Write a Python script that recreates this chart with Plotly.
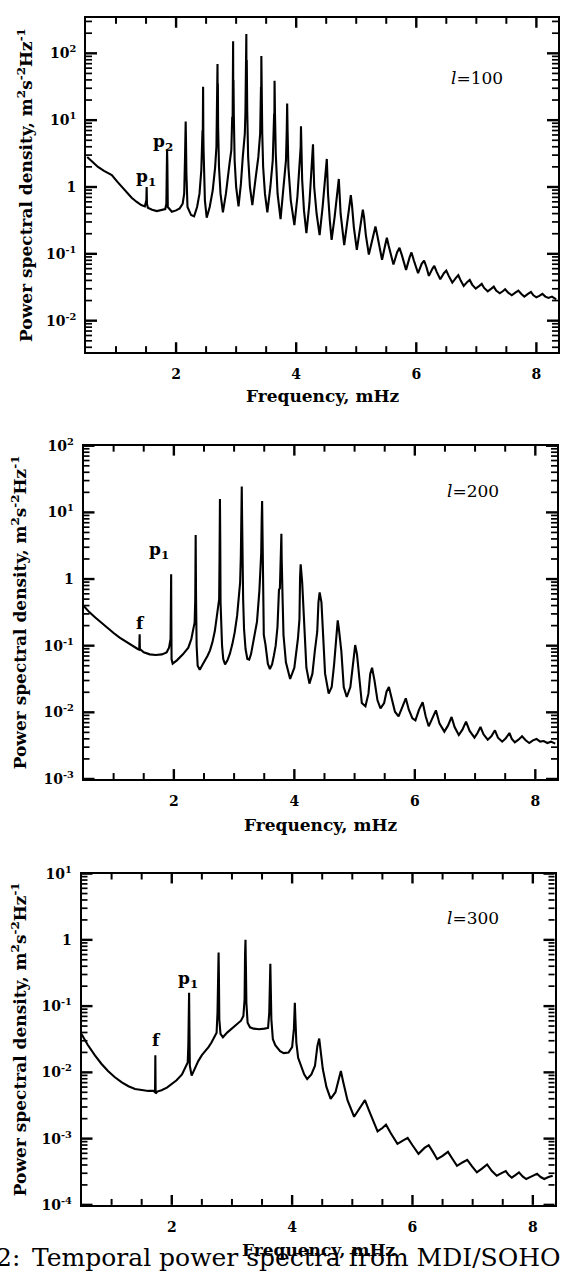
import numpy as np
import plotly.graph_objects as go

W, H = 563, 1273

# ---------------- data (PSD given as log10 values) ----------------
freq_l100 = [0.52, 0.60, 0.70, 0.80, 0.93, 1.02, 1.10, 1.18, 1.26, 1.34, 1.42, 1.48,
             1.505, 1.51, 1.515, 1.53, 1.60, 1.68, 1.76, 1.82,
             1.838, 1.845, 1.85, 1.855, 1.862, 1.93, 2.00, 2.06, 2.11,
             2.135, 2.148, 2.155, 2.16, 2.165, 2.172, 2.19, 2.25, 2.30, 2.35, 2.39,
             2.42, 2.435, 2.440, 2.443, 2.446, 2.45, 2.454, 2.458, 2.465, 2.48, 2.51, 2.56, 2.61, 2.65,
             2.672, 2.678, 2.681, 2.684, 2.687, 2.69, 2.693, 2.696, 2.70, 2.715, 2.74, 2.78, 2.83, 2.89,
             2.92, 2.935, 2.939, 2.942, 2.946, 2.95, 2.953, 2.956, 2.962, 2.975, 3.00, 3.04, 3.08, 3.11,
             3.145, 3.155, 3.159, 3.162, 3.166, 3.17, 3.173, 3.177, 3.185, 3.20, 3.23, 3.27, 3.32, 3.37,
             3.40, 3.41, 3.414, 3.417, 3.42, 3.424, 3.428, 3.435, 3.45, 3.48, 3.52, 3.57, 3.61,
             3.625, 3.633, 3.636, 3.64, 3.644, 3.647, 3.66, 3.69, 3.74, 3.79, 3.83,
             3.843, 3.85, 3.857, 3.87, 3.91, 3.97, 4.02, 4.06,
             4.075, 4.08, 4.087, 4.10, 4.13, 4.17, 4.22, 4.26,
             4.275, 4.28, 4.287, 4.30, 4.34, 4.39, 4.44, 4.48,
             4.505, 4.51, 4.517, 4.53, 4.56, 4.59, 4.64, 4.68,
             4.705, 4.71, 4.72, 4.74, 4.80, 4.85, 4.89, 4.91, 4.93, 4.96,
             5.01, 5.06, 5.09, 5.11, 5.13, 5.16, 5.21, 5.26, 5.30, 5.32, 5.35,
             5.43, 5.48, 5.51, 5.54, 5.62, 5.68, 5.72, 5.76, 5.83, 5.89, 5.92, 5.96,
             6.03, 6.09, 6.13, 6.17, 6.21, 6.27, 6.30, 6.34, 6.40, 6.46, 6.50, 6.54,
             6.60, 6.66, 6.70, 6.74, 6.79, 6.85, 6.89, 6.93, 6.99, 7.05, 7.09, 7.13,
             7.19, 7.25, 7.29, 7.33, 7.39, 7.44, 7.48, 7.53, 7.59, 7.65, 7.70, 7.75,
             7.80, 7.86, 7.91, 7.95, 8.00, 8.05, 8.10, 8.15, 8.20, 8.26, 8.33]
logpsd_l100 = [0.45, 0.38, 0.30, 0.24, 0.18, 0.08, 0.00, -0.08, -0.16, -0.22, -0.27, -0.29,
               -0.20, 0.00, -0.25, -0.31, -0.34, -0.36, -0.34, -0.33,
               -0.25, 0.40, 0.56, 0.35, -0.30, -0.37, -0.35, -0.32, -0.25,
               -0.10, 0.40, 0.80, 0.98, 0.70, 0.20, -0.30, -0.42, -0.44, -0.30, -0.10,
               0.25, 0.60, 0.85, 0.55, 0.85, 1.50, 0.80, 0.55, 0.30, -0.20, -0.46, -0.30, -0.05, 0.29,
               0.60, 1.20, 0.70, 1.72, 1.00, 1.84, 1.20, 1.55, 0.90, 0.30, -0.10, -0.38, -0.10, 0.35,
               0.55, 1.05, 1.60, 1.04, 1.60, 2.18, 1.20, 1.60, 1.05, 0.40, 0.00, -0.29, 0.05, 0.44,
               0.80, 1.13, 1.93, 1.15, 1.90, 2.29, 1.30, 1.90, 1.13, 0.45, 0.00, -0.27, 0.10, 0.45,
               0.80, 1.20, 1.50, 1.20, 1.96, 1.30, 1.50, 0.80, 0.30, -0.10, -0.38, 0.00, 0.40,
               0.70, 1.10, 0.80, 1.59, 1.00, 1.10, 0.50, -0.10, -0.48, -0.05, 0.40,
               0.85, 1.25, 0.85, 0.30, -0.20, -0.57, -0.15, 0.30,
               0.60, 0.91, 0.55, 0.10, -0.35, -0.69, -0.25, 0.25,
               0.45, 0.64, 0.40, 0.00, -0.40, -0.72, -0.30, 0.10,
               0.30, 0.42, 0.25, -0.10, -0.50, -0.79, -0.45, -0.10,
               0.05, 0.12, -0.05, -0.40, -0.87, -0.55, -0.25, -0.12, -0.28, -0.60,
               -0.94, -0.65, -0.42, -0.34, -0.45, -0.72, -1.01, -0.80, -0.63, -0.59, -0.72,
               -1.09, -0.88, -0.76, -0.88, -1.16, -0.98, -0.91, -1.02, -1.24, -1.05, -0.98, -1.10,
               -1.29, -1.15, -1.10, -1.20, -1.33, -1.22, -1.18, -1.27, -1.38, -1.29, -1.25, -1.33,
               -1.43, -1.36, -1.32, -1.40, -1.48, -1.42, -1.39, -1.46, -1.52, -1.48, -1.45, -1.51,
               -1.56, -1.52, -1.49, -1.55, -1.59, -1.56, -1.53, -1.58, -1.62, -1.58, -1.55, -1.60,
               -1.64, -1.60, -1.57, -1.62, -1.65, -1.63, -1.60, -1.64, -1.66, -1.64, -1.68]

freq_l200 = [0.50, 0.60, 0.70, 0.80, 0.90, 1.00, 1.10, 1.20, 1.30, 1.40, 1.425,
             1.428, 1.432, 1.436, 1.50, 1.60, 1.70, 1.80, 1.88, 1.92,
             1.945, 1.950, 1.955, 1.958, 1.962, 1.98, 2.05, 2.15, 2.24, 2.29, 2.32, 2.345, 2.355, 2.362,
             2.368, 2.378, 2.395, 2.43, 2.48, 2.52, 2.56, 2.60, 2.64, 2.68, 2.71, 2.735, 2.752, 2.758, 2.762, 2.765,
             2.770, 2.775, 2.785, 2.80, 2.82, 2.85, 2.89, 2.93, 2.97, 3.01, 3.05, 3.08, 3.10, 3.112, 3.12, 3.127,
             3.133, 3.14, 3.15, 3.165, 3.19, 3.22, 3.25, 3.28, 3.34, 3.38, 3.42, 3.45, 3.458, 3.465,
             3.47, 3.475, 3.493, 3.52, 3.56, 3.594, 3.63, 3.66, 3.69, 3.72, 3.745, 3.76, 3.775, 3.785,
             3.79, 3.795, 3.805, 3.82, 3.86, 3.93, 4.00, 4.06, 4.085, 4.095, 4.105,
             4.13, 4.16, 4.20, 4.25, 4.30, 4.34, 4.38, 4.40, 4.42,
             4.45, 4.47, 4.51, 4.57, 4.62, 4.66, 4.70, 4.72,
             4.74, 4.78, 4.82, 4.87, 4.93, 4.97, 5.00, 5.01,
             5.04, 5.08, 5.12, 5.18, 5.23, 5.26, 5.29,
             5.33, 5.38, 5.43, 5.49, 5.53, 5.57,
             5.61, 5.67, 5.73, 5.79, 5.85,
             5.90, 5.96, 6.01, 6.07, 6.13,
             6.18, 6.23, 6.28, 6.35, 6.41, 6.49, 6.55, 6.61,
             6.66, 6.73, 6.79, 6.85, 6.91, 6.99, 7.04, 7.09,
             7.14, 7.21, 7.27, 7.33, 7.38, 7.45, 7.51, 7.57,
             7.61, 7.66, 7.72, 7.78, 7.84, 7.90, 7.96, 8.02, 8.08, 8.14, 8.20, 8.26, 8.33]
logpsd_l200 = [-0.40, -0.50, -0.58, -0.66, -0.74, -0.81, -0.88, -0.94, -1.00, -1.05, -1.06,
               -0.95, -0.83, -1.05, -1.10, -1.13, -1.14, -1.13, -1.10, -1.03,
               -0.90, -0.57, 0.07, -0.60, -1.20, -1.27, -1.22, -1.13, -1.03, -0.90, -0.74, -0.65, -0.30, 0.66,
               -0.25, -1.00, -1.30, -1.36, -1.28, -1.22, -1.15, -1.07, -0.95, -0.78, -0.60, -0.40, -0.30, 0.30, 1.00, 1.20,
               0.60, -0.35, -0.70, -1.00, -1.20, -1.28, -1.22, -1.12, -0.98, -0.80, -0.55, -0.25, -0.05, 0.35, 1.10, 1.39,
               0.90, 0.30, -0.30, -0.75, -1.05, -1.20, -1.21, -1.13, -0.84, -0.64, -0.17, 0.39, 0.90, 1.17,
               0.80, 0.20, -0.84, -0.98, -1.27, -1.35, -1.28, -1.15, -1.00, -0.72, -0.16, -0.14, 0.30, 0.68,
               0.30, -0.16, -0.30, -0.84, -1.25, -1.50, -1.33, -0.89, -0.60, 0.03, 0.22,
               -0.05, -0.60, -1.33, -1.57, -1.42, -1.08, -0.79, -0.35, -0.20,
               -0.35, -0.79, -1.42, -1.72, -1.62, -1.28, -0.84, -0.62,
               -0.75, -1.08, -1.62, -1.77, -1.62, -1.33, -1.04, -0.99,
               -1.13, -1.52, -1.86, -1.91, -1.72, -1.42, -1.33,
               -1.52, -1.82, -1.94, -1.86, -1.69, -1.62,
               -1.77, -1.99, -2.06, -1.92, -1.79,
               -1.96, -2.09, -2.12, -1.96, -1.85,
               -2.06, -2.21, -2.12, -1.97, -2.17, -2.29, -2.20, -2.07,
               -2.22, -2.34, -2.26, -2.14, -2.28, -2.38, -2.31, -2.22,
               -2.33, -2.41, -2.36, -2.27, -2.38, -2.44, -2.39, -2.31,
               -2.40, -2.45, -2.41, -2.36, -2.42, -2.46, -2.42, -2.40, -2.44, -2.43, -2.46, -2.44, -2.47]

freq_l300 = [0.50, 0.60, 0.72, 0.83, 0.94, 1.05, 1.17, 1.28, 1.39, 1.50, 1.61, 1.70,
             1.722, 1.727, 1.732, 1.76, 1.83, 1.92, 2.00, 2.08, 2.17, 2.23,
             2.265, 2.275, 2.282, 2.288, 2.293, 2.30, 2.33, 2.38, 2.44, 2.50, 2.56, 2.61, 2.66, 2.71,
             2.745, 2.76, 2.772, 2.778, 2.784, 2.79, 2.81, 2.85, 2.92, 3.00, 3.08, 3.15, 3.19,
             3.21, 3.218, 3.225, 3.232, 3.24, 3.26, 3.30, 3.36, 3.45, 3.54, 3.60,
             3.62, 3.632, 3.638, 3.645, 3.655, 3.68, 3.72, 3.80, 3.86, 3.94, 4.00,
             4.03, 4.045, 4.055, 4.07, 4.10, 4.14, 4.20, 4.25, 4.32, 4.38, 4.42, 4.45, 4.47,
             4.51, 4.57, 4.64, 4.72, 4.77, 4.81, 4.85, 4.92, 5.03, 5.12, 5.21, 5.28, 5.34,
             5.42, 5.50, 5.56, 5.64, 5.75, 5.84, 5.92, 6.00, 6.10, 6.20, 6.27, 6.34,
             6.41, 6.50, 6.59, 6.66, 6.74, 6.83, 6.91, 6.99, 7.07, 7.16, 7.24, 7.32,
             7.40, 7.48, 7.55, 7.60, 7.65, 7.71, 7.77, 7.83, 7.89, 7.98, 8.07, 8.13,
             8.19, 8.26, 8.33]
logpsd_l300 = [-1.42, -1.58, -1.74, -1.87, -1.98, -2.07, -2.15, -2.21, -2.25, -2.27, -2.28, -2.28,
               -2.30, -1.74, -2.32, -2.29, -2.27, -2.23, -2.18, -2.12, -2.03, -1.93,
               -1.85, -1.60, -0.97, -0.80, -1.30, -1.90, -2.05, -1.95, -1.83, -1.74, -1.68, -1.62, -1.55, -1.47,
               -1.40, -1.10, -0.25, -0.19, -0.60, -1.20, -1.42, -1.47, -1.40, -1.34, -1.28, -1.22, -1.15,
               -0.90, -0.22, 0.00, -0.40, -0.95, -1.25, -1.32, -1.34, -1.35, -1.34, -1.33,
               -1.10, -0.40, -0.36, -0.71, -1.20, -1.50, -1.59, -1.68, -1.71, -1.70, -1.62,
               -1.34, -0.95, -1.20, -1.55, -1.78, -1.88, -2.03, -2.10, -2.03, -1.90, -1.60, -1.49, -1.62,
               -1.95, -2.22, -2.40, -2.30, -2.10, -1.98, -2.15, -2.42, -2.67, -2.55, -2.42, -2.58, -2.71,
               -2.89, -2.84, -2.79, -2.92, -3.08, -3.03, -2.99, -3.10, -3.23, -3.14, -3.10, -3.20,
               -3.31, -3.26, -3.20, -3.30, -3.41, -3.36, -3.32, -3.42, -3.51, -3.45, -3.39, -3.49,
               -3.56, -3.52, -3.49, -3.55, -3.59, -3.55, -3.51, -3.57, -3.61, -3.57, -3.53, -3.58,
               -3.61, -3.58, -3.56]

degrees = ["100", "200", "300"]
freqs = [freq_l100, freq_l200, freq_l300]
logpsds = [logpsd_l100, logpsd_l200, logpsd_l300]

x_ticks = [2, 4, 6, 8]
y_tick_exps = [[2, 1, 0, -1, -2], [2, 1, 0, -1, -2, -3], [1, 0, -1, -2, -3, -4]]
y_ranges = [[-2.47, 2.53], [-3.0, 2.0], [-4.0, 1.0]]
x_range = [0.5, 8.36]

mode_labels = [["p<sub>1</sub>", "p<sub>2</sub>"], ["f", "p<sub>1</sub>"], ["f", "p<sub>1</sub>"]]

# ---------------- layout geometry (pixels) ----------------
frames = [(86, 558, 8, 347), (83.5, 557, 442, 780), (81.5, 554.5, 876, 1212)]
ytitle_x = [25, 19, 19]
xtitle_y = [392, 827, 1258]
xlabel_pos = [[(146, 170), (163, 134)], [(140, 622), (159, 548)], [(156, 1045), (188, 983)]]
deg_pos = [(477, 69), (473, 488), (473, 921)]
TICK_MAJ, TICK_MIN = 10, 6

FONT = "DejaVu Serif"


def pxx(p):
    return p / W


def pxy(p):
    return 1 - p / H


def sup(e):
    if e == 0:
        return "<b>1</b>"
    return "<b>10<sup>%d</sup></b>" % e


def seg(x0, y0, x1, y1, w):
    # a tick segment given in page pixels, placed in paper coordinates
    return dict(type="line", xref="paper", yref="paper",
                x0=pxx(x0), x1=pxx(x1), y0=pxy(y0), y1=pxy(y1),
                line=dict(color="black", width=w), layer="above")


fig = go.Figure()
annotations = []
shapes = []
for i in range(3):
    l, r, t, b = frames[i]
    sfx = "" if i == 0 else str(i + 1)
    xref, yref = "x" + sfx, "y" + sfx
    psd = 10 ** np.array(logpsds[i])
    fig.add_trace(go.Scatter(
        x=freqs[i], y=psd, mode="lines",
        line=dict(color="black", width=2.1), xaxis=xref, yaxis=yref,
        showlegend=False, hoverinfo="skip"))
    exps = y_tick_exps[i]
    y0r, y1r = y_ranges[i]
    lo, hi = int(np.floor(y0r)), int(np.ceil(y1r))
    minor_y = [np.log10(mm) + k for k in range(lo, hi) for mm in range(2, 10)
               if y0r < np.log10(mm) + k < y1r]
    minor_x = [v / 2 for v in range(2, 17) if v % 4 != 0]
    common = dict(showgrid=False, zeroline=False, showline=True, linecolor="black",
                  linewidth=1.8, mirror=True, ticks="")
    fig.update_layout({
        "xaxis" + sfx: dict(domain=[pxx(l), pxx(r)], range=x_range, anchor=yref,
                            tickmode="array", tickvals=x_ticks,
                            ticktext=["<b>%d</b>" % v for v in x_ticks],
                            tickfont=dict(family=FONT, size=14, color="black"),
                            ticklabelstandoff=8, **common),
        "yaxis" + sfx: dict(domain=[pxy(b), pxy(t)], type="log", range=y_ranges[i], anchor=xref,
                            tickmode="array", tickvals=[10.0 ** e for e in exps],
                            ticktext=[sup(e) for e in exps],
                            tickfont=dict(family=FONT, size=14, color="black"),
                            ticklabelstandoff=5, **common),
    })
    # tick marks, inside on all four sides, at the axis values mapped onto the frame
    for v, ln in [(v, TICK_MAJ) for v in x_ticks] + [(v, TICK_MIN) for v in minor_x]:
        px = l + (v - x_range[0]) / (x_range[1] - x_range[0]) * (r - l)
        w = 2.4 if ln == TICK_MAJ else 2.0
        shapes.append(seg(px, b, px, b - ln, w))
        shapes.append(seg(px, t, px, t + ln, w))
    for v, ln in [(float(e), TICK_MAJ + 1) for e in exps] + [(v, TICK_MIN) for v in minor_y]:
        py = b - (v - y0r) / (y1r - y0r) * (b - t)
        if not (t - 0.5 <= py <= b + 0.5):
            continue
        w = 2.4 if ln > TICK_MIN else 1.7
        shapes.append(seg(l, py, l + ln, py, w))
        shapes.append(seg(r, py, r - ln, py, w))
    annotations.append(dict(
        text="<b>Power spectral density, m<sup>2</sup>s<sup>-2</sup>Hz<sup>-1</sup></b>",
        x=pxx(ytitle_x[i]), y=pxy((t + b) / 2), xref="paper", yref="paper",
        textangle=-90, showarrow=False, xanchor="center", yanchor="middle",
        font=dict(family=FONT, size=17, color="black")))
    annotations.append(dict(
        text="<b>Frequency, mHz</b>", x=pxx((l + r) / 2), y=pxy(xtitle_y[i]),
        xref="paper", yref="paper", showarrow=False, xanchor="center", yanchor="middle",
        font=dict(family=FONT, size=17, color="black")))
    annotations.append(dict(
        text="<i>l</i>=" + degrees[i], x=pxx(deg_pos[i][0]), y=pxy(deg_pos[i][1]),
        xref="paper", yref="paper", showarrow=False, xanchor="center", yanchor="middle",
        font=dict(family=FONT, size=17, color="black")))
    for txt, (lx, ly) in zip(mode_labels[i], xlabel_pos[i]):
        annotations.append(dict(
            text="<b>" + txt + "</b>", x=pxx(lx), y=pxy(ly), xref="paper", yref="paper",
            showarrow=False, xanchor="center", yanchor="middle",
            font=dict(family=FONT, size=17, color="black")))

# caption (partly cut at the edges in the original)
annotations.append(dict(text="2:", x=pxx(22), y=pxy(1265), xref="paper", yref="paper",
                        showarrow=False, xanchor="right", yanchor="middle",
                        font=dict(family=FONT, size=25, color="black")))
annotations.append(dict(text="Temporal power spectra from MDI/SOHO", x=pxx(30), y=pxy(1265),
                        xref="paper", yref="paper", showarrow=False, xanchor="left",
                        yanchor="middle", font=dict(family=FONT, size=25, color="black")))

fig.update_layout(width=W, height=H, margin=dict(l=0, r=0, t=0, b=0),
                  paper_bgcolor="white", plot_bgcolor="white",
                  annotations=annotations, shapes=shapes, showlegend=False)
fig.write_html("out.html", config={"displayModeBar": False},
               post_script="document.body.style.margin='0px';"
                           "document.body.style.overflow='hidden';")
